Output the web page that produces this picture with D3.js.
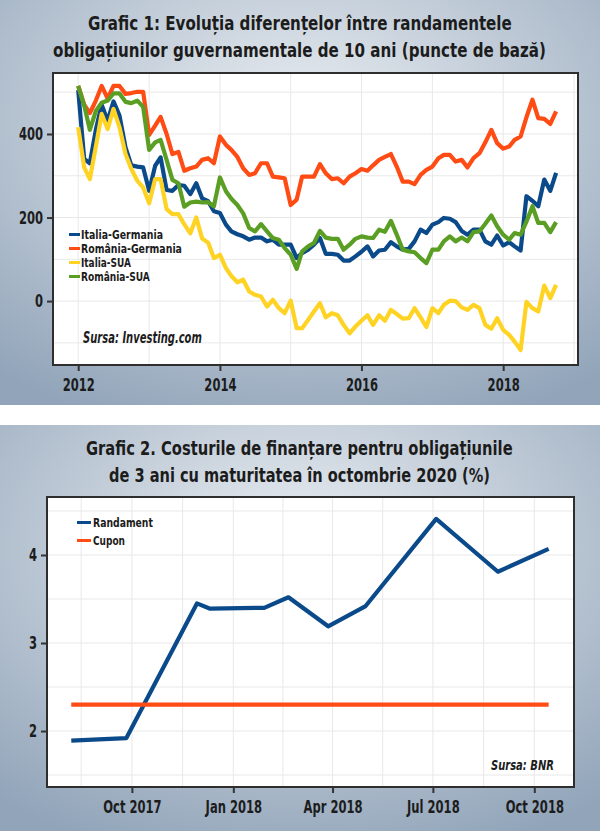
<!DOCTYPE html>
<html>
<head>
<meta charset="utf-8">
<script src="https://cdnjs.cloudflare.com/ajax/libs/d3/7.8.5/d3.min.js"></script>
<style>
body { margin: 0; background: #fff; }
svg { display: block; font-family: "DejaVu Sans", Roboto, sans-serif; }
</style>
</head>
<body>
<script>
// Grafic 1: monthly spreads, Jan 2012 - Oct 2018 (basis points)
var firstYear = 2012;
var italiaGermania = [505, 340, 330, 410, 470, 432, 478, 444, 368, 325, 322, 320,
    264, 324, 344, 266, 264, 278, 276, 256, 282, 246, 239, 215,
    211, 183, 167, 160, 155, 147, 152, 152, 143, 147, 135, 135,
    135, 103, 115, 123, 135, 151, 113, 113, 111, 97, 97, 107,
    118, 131, 107, 121, 123, 141, 131, 123, 125, 143, 171, 163,
    183, 189, 199, 197, 189, 168, 159, 171, 171, 143, 135, 157,
    133, 141, 131, 121, 251, 240, 227, 291, 264, 307];
var romaniaGermania = [515, 470, 450, 480, 515, 485, 515, 515, 496, 498, 501, 501,
    398, 420, 441, 400, 352, 357, 312, 318, 322, 338, 342, 330,
    394, 374, 362, 345, 318, 302, 306, 330, 330, 298, 296, 294,
    230, 243, 298, 298, 298, 328, 306, 292, 294, 282, 298, 306,
    316, 312, 325, 338, 345, 352, 322, 286, 286, 280, 302, 314,
    322, 342, 350, 350, 334, 338, 320, 342, 354, 380, 410, 378,
    365, 370, 386, 394, 440, 482, 438, 436, 424, 454];
var italiaSua = [416, 320, 292, 370, 448, 412, 460, 416, 352, 316, 288, 272,
    234, 292, 292, 220, 208, 208, 184, 162, 200, 150, 140, 103,
    111, 79, 60, 45, 51, 23, 15, 11, -13, 3, -17, -29,
    1, -65, -65, -45, -25, -5, -39, -29, -34, -57, -77, -61,
    -47, -34, -57, -34, -47, -21, -31, -42, -41, -17, -39, -62,
    -17, -29, -9, 1, 0, -15, -21, -9, -17, -57, -66, -41,
    -69, -81, -97, -117, -2, -17, -25, 37, 7, 39];
var romaniaSua = [515, 468, 410, 455, 475, 480, 497, 497, 477, 474, 480, 465,
    362, 380, 386, 338, 290, 282, 226, 236, 238, 236, 237, 227,
    296, 263, 245, 230, 210, 175, 167, 184, 167, 151, 147, 127,
    111, 77, 119, 131, 139, 168, 152, 149, 149, 123, 135, 149,
    155, 152, 151, 171, 166, 192, 159, 123, 119, 117, 103, 91,
    123, 123, 143, 155, 143, 152, 143, 165, 167, 185, 205, 179,
    159, 147, 163, 159, 190, 227, 187, 187, 165, 189];
var spreadNames = ["Italia-Germania", "România-Germania", "Italia-SUA", "România-SUA"];
var spreadColors = ["#0b4a8a", "#ff4b14", "#ffd324", "#5a9e24"];
var yearTicks = [2012, 2014, 2016, 2018];
var bpTicks = [0, 200, 400];

// Grafic 2: costurile de finantare (%)
var randDates = ["2017-08-07", "2017-09-26", "2017-11-29", "2017-12-11", "2018-01-29", "2018-02-20",
    "2018-03-28", "2018-05-01", "2018-07-04", "2018-08-29", "2018-10-14"];
var randValues = [1.89, 1.92, 3.45, 3.39, 3.40, 3.52, 3.19, 3.42, 4.41, 3.81, 4.07];
var cuponValue = 2.30;
var quarterTicks = ["2017-10-01", "2018-01-01", "2018-04-01", "2018-07-01", "2018-10-01"];
var pctTicks = [2, 3, 4];
var names2 = ["Randament", "Cupon"];
var colors2 = ["#0b4a8a", "#ff4b14"];

var parse = d3.timeParse("%Y-%m-%d");
var W = 600, H = 831;
var ink = "#1c1c1c";
var grid = "#e8e8e8";

var svg = d3.select("body").append("svg")
    .attr("width", W)
    .attr("height", H);

var grad = svg.append("defs").append("radialGradient")
    .attr("id", "bg").attr("cx", "50%").attr("cy", "30%").attr("r", "80%");
grad.append("stop").attr("offset", "0%").attr("stop-color", "#eaeef2");
grad.append("stop").attr("offset", "100%").attr("stop-color", "#91a4b9");

svg.append("rect").attr("x", 0).attr("y", 0).attr("width", W).attr("height", 405).attr("fill", "url(#bg)");
svg.append("rect").attr("x", 0).attr("y", 425).attr("width", W).attr("height", H - 425).attr("fill", "url(#bg)");

// condensed text: squeeze horizontally so that it is `width` wide
function ctext(g, x, y, t, size, width, style) {
    var el = g.append("text")
        .attr("font-size", size).attr("font-weight", "bold")
        .attr("font-style", style || "normal")
        .attr("fill", ink)
        .text(t);
    var k = width / el.node().getComputedTextLength();
    el.attr("transform", "translate(" + x + "," + y + ") scale(" + k + ",1)");
    return el;
}

function title(lines, ys, spans) {
    lines.forEach(function(t, i) {
        ctext(svg, spans[i][0], ys[i], t, 19.5, spans[i][1] - spans[i][0]);
    });
}

function frame(x0, y0, x1, y1) {
    svg.append("rect").attr("x", x0).attr("y", y0)
        .attr("width", x1 - x0).attr("height", y1 - y0)
        .attr("fill", "#fff");
}

function border(x0, y0, x1, y1) {
    svg.append("rect").attr("x", x0).attr("y", y0)
        .attr("width", x1 - x0).attr("height", y1 - y0)
        .attr("fill", "none").attr("stroke", "#2e2e2e").attr("stroke-width", 2);
}

function styleAxis(g, k, left) {
    g.select(".domain").remove();
    g.selectAll(".tick line").attr("stroke", "#333").attr("stroke-width", 2);
    g.selectAll(".tick text")
        .attr("fill", ink)
        .attr("font-size", 17.5).attr("font-weight", "bold")
        .attr("font-family", "'DejaVu Sans', sans-serif")
        .attr("transform", "scale(" + k + ",1)");
    if (left) g.selectAll(".tick text").attr("x", -10 / k);
}

// ---------- Grafic 1 ----------
title(["Grafic 1: Evoluția diferențelor între randamentele",
       "obligațiunilor guvernamentale de 10 ani (puncte de bază)"], [30, 57], [[88, 512], [53, 546]]);

var L1 = 53, R1 = 578, T1 = 73, B1 = 365;
var months = italiaGermania.map(function(d, i) { return new Date(firstYear, i, 1); });

var x1 = d3.scaleTime()
    .domain([new Date(2011, 7, 24), new Date(2019, 0, 22)])
    .range([L1, R1]);
var y1 = d3.scaleLinear().domain([-153, 546]).range([B1, T1]);

frame(L1, T1, R1, B1);

var g1 = svg.append("g");
g1.selectAll(".vg").data(d3.range(2012, 2020)).enter().append("line")
    .attr("x1", function(d) { return x1(new Date(d, 0, 1)); })
    .attr("x2", function(d) { return x1(new Date(d, 0, 1)); })
    .attr("y1", T1).attr("y2", B1)
    .attr("stroke", grid).attr("stroke-width", 1);
g1.selectAll(".hg").data(d3.range(-100, 501, 100)).enter().append("line")
    .attr("x1", L1).attr("x2", R1)
    .attr("y1", function(d) { return y1(d); })
    .attr("y2", function(d) { return y1(d); })
    .attr("stroke", grid).attr("stroke-width", 1);

var series1 = [italiaGermania, romaniaGermania, italiaSua, romaniaSua];
var line1 = d3.line()
    .x(function(d, i) { return x1(months[i]); })
    .y(function(d) { return y1(d); });

series1.forEach(function(s, i) {
    g1.append("path")
        .datum(s)
        .attr("d", line1)
        .attr("fill", "none")
        .attr("stroke", spreadColors[i])
        .attr("stroke-width", 4.2)
        .attr("stroke-linejoin", "round");
});

border(L1, T1, R1, B1);

var ax1 = svg.append("g").attr("transform", "translate(0," + B1 + ")")
    .call(d3.axisBottom(x1)
        .tickValues(yearTicks.map(function(y) { return new Date(y, 0, 1); }))
        .tickFormat(d3.timeFormat("%Y"))
        .tickSize(6).tickPadding(8));
styleAxis(ax1, 0.66, false);

var ay1 = svg.append("g").attr("transform", "translate(" + L1 + ",0)")
    .call(d3.axisLeft(y1).tickValues(bpTicks).tickSize(6).tickPadding(4));
styleAxis(ay1, 0.66, true);

var leg1 = svg.append("g");
spreadNames.forEach(function(n, i) {
    var yy = 239 + i * 14;
    leg1.append("line")
        .attr("x1", 69).attr("x2", 80)
        .attr("y1", yy - 4.5).attr("y2", yy - 4.5)
        .attr("stroke", spreadColors[i]).attr("stroke-width", 3);
    ctext(leg1, 81, yy, n, 12.5, [82, 101, 50, 69][i]);
});
ctext(svg, 83, 343, "Sursa: Investing.com", 15, 119, "italic");

// ---------- Grafic 2 ----------
title(["Grafic 2. Costurile de finanțare pentru obligațiunile",
       "de 3 ani cu maturitatea în octombrie 2020 (%)"], [455, 482], [[86, 513], [109, 490]]);

var L2 = 47, R2 = 574, T2 = 497, B2 = 787;
var x2 = d3.scaleTime()
    .domain([new Date(2017, 6, 16), new Date(2018, 10, 6)])
    .range([L2, R2]);
var y2 = d3.scaleLinear().domain([1.364, 4.659]).range([B2, T2]);

frame(L2, T2, R2, B2);

var g2 = svg.append("g");
var qx = quarterTicks.map(function(d) { return x2(parse(d)); });
var vgrid2 = qx.slice();
vgrid2.push(qx[0] - (qx[1] - qx[0]) / 2);
for (var i = 0; i < qx.length - 1; i++) vgrid2.push((qx[i] + qx[i + 1]) / 2);

g2.selectAll(".vg").data(vgrid2).enter().append("line")
    .attr("x1", function(d) { return d; })
    .attr("x2", function(d) { return d; })
    .attr("y1", T2).attr("y2", B2)
    .attr("stroke", grid).attr("stroke-width", 1);
g2.selectAll(".hg").data(d3.range(1.5, 4.51, 0.5)).enter().append("line")
    .attr("x1", L2).attr("x2", R2)
    .attr("y1", function(d) { return y2(d); })
    .attr("y2", function(d) { return y2(d); })
    .attr("stroke", grid).attr("stroke-width", 1);

var randDatesP = randDates.map(parse);
var line2 = d3.line()
    .x(function(d, i) { return x2(randDatesP[i]); })
    .y(function(d) { return y2(d); });

g2.append("path")
    .datum(randValues)
    .attr("d", line2)
    .attr("fill", "none")
    .attr("stroke", colors2[0])
    .attr("stroke-width", 4.2)
    .attr("stroke-linejoin", "round");

g2.append("path")
    .datum(randValues.map(function() { return cuponValue; }))
    .attr("d", line2)
    .attr("fill", "none")
    .attr("stroke", colors2[1])
    .attr("stroke-width", 4.2);

border(L2, T2, R2, B2);

var ax2 = svg.append("g").attr("transform", "translate(0," + B2 + ")")
    .call(d3.axisBottom(x2)
        .tickValues(quarterTicks.map(parse))
        .tickFormat(d3.timeFormat("%b %Y"))
        .tickSize(6).tickPadding(8));
styleAxis(ax2, 0.66, false);

var ay2 = svg.append("g").attr("transform", "translate(" + L2 + ",0)")
    .call(d3.axisLeft(y2).tickValues(pctTicks).tickFormat(d3.format("d")).tickSize(6).tickPadding(4));
styleAxis(ay2, 0.66, true);

var leg2 = svg.append("g");
names2.forEach(function(n, i) {
    var yy = 527 + i * 18;
    leg2.append("line")
        .attr("x1", 77).attr("x2", 91)
        .attr("y1", yy - 4.5).attr("y2", yy - 4.5)
        .attr("stroke", colors2[i]).attr("stroke-width", 3);
    ctext(leg2, 93, yy, n, 13, [60, 32][i]);
});
ctext(svg, 491, 770, "Sursa: BNR", 14, 63, "italic");
</script>
</body>
</html>
